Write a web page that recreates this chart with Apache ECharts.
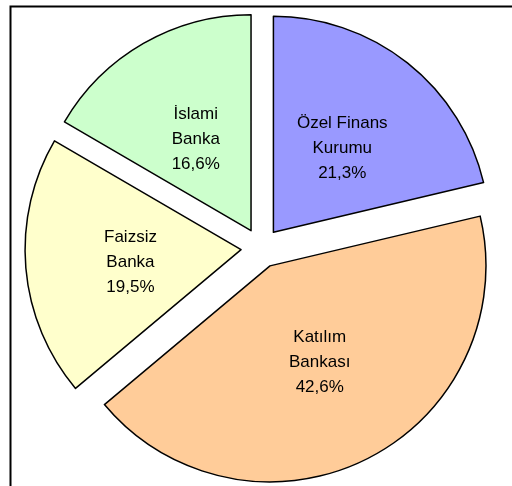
<!DOCTYPE html>
<html>
<head>
<meta charset="utf-8">
<script src="https://cdn.jsdelivr.net/npm/echarts@6/dist/echarts.min.js"></script>
<style>
html,body{margin:0;padding:0;background:#fff;}
#chart{width:512px;height:486px;}
</style>
</head>
<body>
<div id="chart"></div>
<script>
var categories = ['Özel Finans\nKurumu', 'Katılım\nBankası', 'Faizsiz\nBanka', 'İslami\nBanka'];
var values = [21.3, 42.6, 19.5, 16.6];
var colors = ['#9999FF', '#FFCC99', '#FFFFCC', '#CCFFCC'];
var labelShiftY = [3, -3, 3, 5];

var chart = echarts.init(document.getElementById('chart'), null, {renderer: 'canvas'});
var data = categories.map(function (c, i) {
  var st = {color: colors[i], borderColor: '#000', borderWidth: 1.5};
  return {
    name: c,
    value: values[i],
    selected: true,
    itemStyle: st,
    select: {itemStyle: st}
  };
});
chart.setOption({
  animation: false,
  backgroundColor: '#fff',
  graphic: [{
    type: 'rect',
    shape: {x: 10.5, y: 6.5, width: 700, height: 700},
    style: {fill: 'none', stroke: '#000', lineWidth: 2},
    silent: true,
    z: 100
  }],
  series: [{
    type: 'pie',
    center: [261, 248],
    radius: [0, 216],
    startAngle: 90,
    clockwise: true,
    selectedMode: 'multiple',
    selectedOffset: 20,
    avoidLabelOverlap: false,
    emphasis: {disabled: true},
    label: {
      show: true,
      position: 'inside',
      color: '#000',
      fontFamily: 'Liberation Sans, Arial, sans-serif',
      fontSize: 17,
      lineHeight: 25,
      align: 'center',
      formatter: function (p) {
        return p.name + '\n' + String(p.value).replace('.', ',') + '%';
      }
    },
    labelLayout: function (p) {
      return {dy: labelShiftY[p.dataIndex]};
    },
    labelLine: {show: false},
    data: data
  }]
});
</script>
</body>
</html>
